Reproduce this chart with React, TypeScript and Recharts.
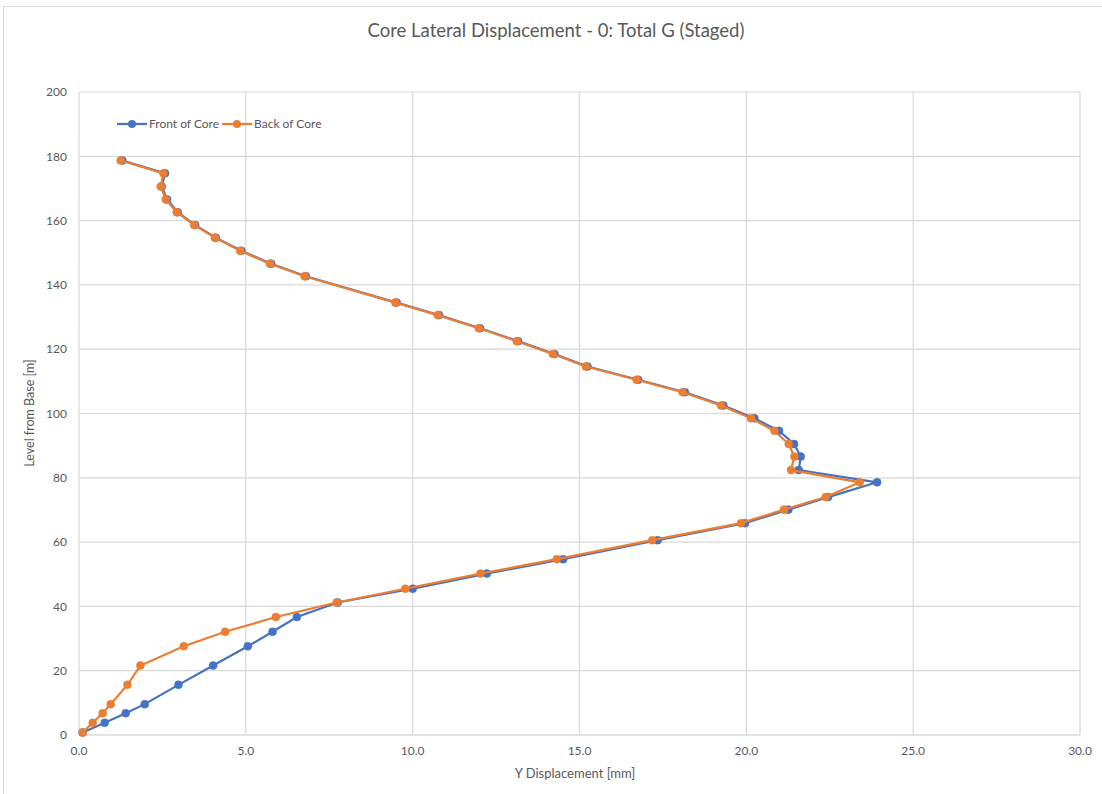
import React from 'react'
import { ScatterChart, Scatter, XAxis, YAxis, CartesianGrid } from 'recharts'

// level from base [m], shared by both series
const levels = [
  0.8, 3.8, 6.8, 9.6, 15.6, 21.6, 27.6, 32.1, 36.7, 41.2, 45.5, 50.2, 54.7, 60.6,
  65.9, 70.1, 74.0, 78.6, 82.4, 86.6, 90.5, 94.6, 98.5, 102.5, 106.6, 110.5, 114.6,
  118.5, 122.5, 126.5, 130.6, 134.5, 142.7, 146.6, 150.6, 154.7, 158.6, 162.6, 166.6,
  170.6, 174.7, 178.7,
]

// Y displacement [mm]
const frontOfCore = [
  0.11, 0.77, 1.4, 1.97, 2.98, 4.02, 5.06, 5.8, 6.53, 7.75, 10.0, 12.22, 14.51, 17.34,
  19.96, 21.26, 22.45, 23.92, 21.57, 21.63, 21.43, 20.98, 20.24, 19.31, 18.16, 16.76, 15.24,
  14.25, 13.16, 12.02, 10.79, 9.52, 6.8, 5.76, 4.87, 4.1, 3.48, 2.96, 2.64,
  2.48, 2.58, 1.3,
]

const backOfCore = [
  0.11, 0.41, 0.71, 0.95, 1.45, 1.84, 3.14, 4.38, 5.9, 7.72, 9.78, 12.03, 14.32, 17.18,
  19.84, 21.13, 22.38, 23.4, 21.34, 21.44, 21.27, 20.84, 20.14, 19.24, 18.09, 16.71, 15.19,
  14.2, 13.12, 11.98, 10.75, 9.48, 6.76, 5.72, 4.83, 4.07, 3.45, 2.93, 2.6,
  2.45, 2.53, 1.25,
]

const xTicks = [0, 5, 10, 15, 20, 25, 30]
const yTicks = [0, 20, 40, 60, 80, 100, 120, 140, 160, 180, 200]

const BLUE = '#4472C4'
const ORANGE = '#ED7D31'
const TEXT = '#595959'
const FONT = 'Lato, "Open Sans", sans-serif'

const frontData = levels.map((y, i) => ({ x: frontOfCore[i], y }))
const backData = levels.map((y, i) => ({ x: backOfCore[i], y }))

const dot = (color: string) => (props: any) => (
  <circle cx={props.cx} cy={props.cy} r={4} fill={color} stroke={color} strokeWidth={0.5} />
)

const legendItems = [
  { name: 'Front of Core', color: BLUE },
  { name: 'Back of Core', color: ORANGE },
]

export default function App() {
  return (
    <div style={{ position: 'relative', width: 1102, height: 794, background: '#fff', overflow: 'hidden' }}>
      <style>{`body{margin:0}`}</style>
      <div
        style={{
          position: 'absolute', left: 3, top: 6, width: 1110, height: 800,
          border: '1px solid #d9d9d9', boxSizing: 'border-box',
        }}
      />
      <div
        style={{
          position: 'absolute', top: 19, left: 0, width: 1112, textAlign: 'center',
          fontFamily: FONT, fontSize: 18.5, color: TEXT,
        }}
      >
        Core Lateral Displacement - 0: Total G (Staged)
      </div>
      <div
        style={{
          position: 'absolute', left: 29, top: 413, transform: 'translate(-50%, -50%) rotate(-90deg)',
          whiteSpace: 'nowrap', fontFamily: FONT, fontSize: 12.5, color: TEXT,
        }}
      >
        Level from Base [m]
      </div>
      <div
        style={{
          position: 'absolute', left: 575, top: 773, transform: 'translate(-50%, -50%)',
          whiteSpace: 'nowrap', fontFamily: FONT, fontSize: 13, color: TEXT,
        }}
      >
        Y Displacement [mm]
      </div>
      <ScatterChart
        width={1102}
        height={794}
        margin={{ top: 92, right: 22, bottom: 0, left: 0 }}
        style={{ position: 'absolute', left: 0, top: 0 }}
      >
        <CartesianGrid stroke="#d9d9d9" strokeWidth={1.2} />
        <XAxis
          type="number"
          dataKey="x"
          domain={[0, 30]}
          ticks={xTicks}
          interval={0}
          tickFormatter={(v: number) => v.toFixed(1)}
          tick={{ fill: TEXT, fontSize: 12, fontFamily: FONT }}
          axisLine={{ stroke: '#d9d9d9' }}
          tickLine={false}
          tickSize={0}
          tickMargin={11}
          height={59}
        />
        <YAxis
          type="number"
          dataKey="y"
          domain={[0, 200]}
          ticks={yTicks}
          interval={0}
          tick={{ fill: TEXT, fontSize: 12, fontFamily: FONT }}
          axisLine={false}
          tickLine={false}
          tickSize={0}
          tickMargin={12}
          width={79}
        />
        <Scatter
          name="Front of Core"
          data={frontData}
          line={{ stroke: BLUE, strokeWidth: 2.2 }}
          lineType="joint"
          shape={dot(BLUE)}
          isAnimationActive={false}
        />
        <Scatter
          name="Back of Core"
          data={backData}
          line={{ stroke: ORANGE, strokeWidth: 2.2 }}
          lineType="joint"
          shape={dot(ORANGE)}
          isAnimationActive={false}
        />
      </ScatterChart>
      <div
        style={{
          position: 'absolute', top: 116, left: 117, display: 'flex', alignItems: 'center',
          fontFamily: FONT, fontSize: 12, color: TEXT,
        }}
      >
        {legendItems.map(item => (
          <div key={item.name} style={{ display: 'flex', alignItems: 'center', marginRight: 3 }}>
            <svg width={30} height={10}>
              <line x1={0} y1={5} x2={30} y2={5} stroke={item.color} strokeWidth={2.2} />
              <circle cx={15} cy={5} r={4} fill={item.color} />
            </svg>
            <span style={{ marginLeft: 2 }}>{item.name}</span>
          </div>
        ))}
      </div>
    </div>
  )
}
